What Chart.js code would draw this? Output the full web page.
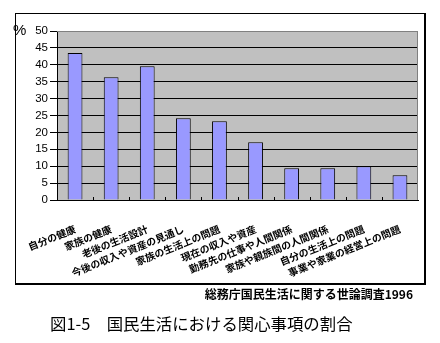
<!DOCTYPE html>
<html>
<head>
<meta charset="utf-8">
<script src="https://cdn.jsdelivr.net/npm/chart.js@4/dist/chart.umd.min.js"></script>
<style>
  body { margin: 0; width: 440px; height: 343px; background: #fff; position: relative; overflow: hidden; }
  canvas { display: block; position: absolute; left: 0; top: 0; }
  .linea { position: absolute; background: #000; }
  #pct { position: absolute; left: 13px; top: 21px; font: 15px "Liberation Sans", sans-serif; color: #000; }
  #fuente { position: absolute; right: 27px; top: 285px; font: bold 12px "Noto Sans CJK JP", sans-serif; color: #000; white-space: nowrap; }
  #titulo { position: absolute; left: 50px; top: 311px; font: 16.4px "Noto Sans CJK JP", sans-serif; color: #000; white-space: nowrap; }
</style>
</head>
<body>
<canvas id="grafico" width="440" height="343"></canvas>
<!-- marco exterior -->
<div class="linea" style="left:15px;top:13px;width:411px;height:1px"></div>
<div class="linea" style="left:15px;top:13px;width:1px;height:272px"></div>
<div class="linea" style="left:424px;top:13px;width:2px;height:272px"></div>
<div class="linea" style="left:15px;top:283px;width:411px;height:2px"></div>
<div id="pct">%</div>
<div id="fuente">総務庁国民生活に関する世論調査1996</div>
<div id="titulo">図1-5　国民生活における関心事項の割合</div>
<script>
// Datos del gráfico
const categorias = [
  '自分の健康', '家族の健康', '老後の生活設計', '今後の収入や資産の見通し',
  '家族の生活上の問題', '現在の収入や資産', '勤務先の仕事や人間関係',
  '家族や親族間の人間関係', '自分の生活上の問題', '事業や家業の経営上の問題'
];
const porcentajes = [43.5, 36.3, 39.6, 24.2, 23.3, 17.1, 9.4, 9.4, 10.0, 7.3];
const ejeMin = 0;
const ejeMax = 50;
const ejePaso = 5;

// Fondo gris del área de trazado y borde gris arriba/derecha
const fondoPlot = {
  id: 'fondoPlot',
  beforeDraw(chart) {
    const { ctx, chartArea: a } = chart;
    ctx.save();
    ctx.fillStyle = '#C0C0C0';
    ctx.fillRect(a.left, a.top, a.right - a.left, a.bottom - a.top);
    ctx.restore();
  },
  afterDraw(chart) {
    const { ctx, chartArea: a, scales } = chart;
    ctx.save();
    ctx.strokeStyle = '#808080';
    ctx.lineWidth = 1;
    ctx.beginPath();
    ctx.moveTo(a.left, a.top + 0.5);
    ctx.lineTo(a.right - 0.5, a.top + 0.5);
    ctx.lineTo(a.right - 0.5, a.bottom);
    ctx.stroke();
    // marcas pequeñas hacia dentro entre categorías
    const x = scales.x;
    ctx.strokeStyle = '#000';
    ctx.beginPath();
    for (let i = 1; i < categorias.length; i++) {
      const px = Math.round((x.getPixelForTick(i - 1) + x.getPixelForTick(i)) / 2) + 0.5;
      ctx.moveTo(px, a.bottom);
      ctx.lineTo(px, a.bottom - 3);
    }
    ctx.stroke();
    ctx.restore();
  }
};

new Chart(document.getElementById('grafico'), {
  type: 'bar',
  data: {
    labels: categorias,
    datasets: [{
      data: porcentajes,
      backgroundColor: '#9999FF',
      borderColor: '#000',
      borderWidth: 1,
      categoryPercentage: 1,
      barPercentage: 0.41
    }]
  },
  options: {
    responsive: false,
    animation: false,
    layout: { padding: { left: 0, top: 31, right: 22, bottom: 0 } },
    plugins: { legend: { display: false }, tooltip: { enabled: false } },
    scales: {
      x: {
        afterFit(s) { s.height = 143; },
        grid: { display: false },
        border: { color: '#000', width: 1 },
        ticks: {
          minRotation: 22, maxRotation: 22, autoSkip: false, padding: 15,
          color: '#000',
          font: { family: '"Noto Sans CJK JP", sans-serif', size: 10, weight: 'bold' }
        }
      },
      y: {
        min: ejeMin, max: ejeMax,
        afterFit(s) { s.width = 57; },
        border: { color: '#000', width: 1 },
        grid: {
          color: c => c.tick && c.tick.value === ejeMax ? '#808080' : '#000',
          tickColor: '#000',
          tickLength: 7,
          lineWidth: 1
        },
        ticks: {
          stepSize: ejePaso, padding: 2, color: '#000',
          font: { family: '"Liberation Sans", sans-serif', size: 11.5 }
        }
      }
    }
  },
  plugins: [fondoPlot]
});
</script>
</body>
</html>
